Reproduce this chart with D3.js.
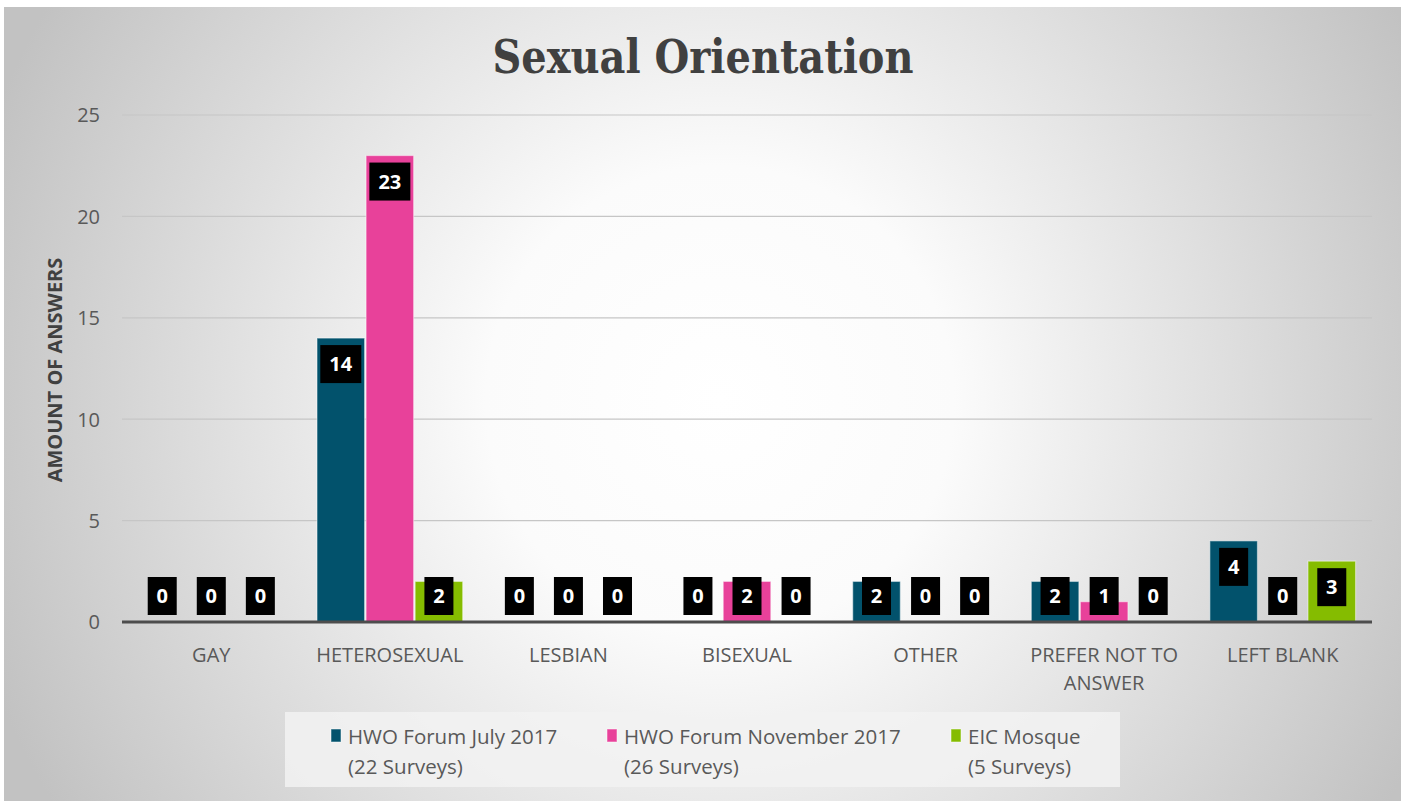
<!DOCTYPE html>
<html>
<head>
<meta charset="utf-8">
<script src="https://cdn.jsdelivr.net/npm/d3@7"></script>
<style>
  html, body { margin: 0; padding: 0; background: #ffffff; }
  svg { display: block; }
</style>
</head>
<body>
<svg id="chart" width="1403" height="801"></svg>
<script>
// ---- data ----
const categories = ["GAY", "HETEROSEXUAL", "LESBIAN", "BISEXUAL", "OTHER", "PREFER NOT TO ANSWER", "LEFT BLANK"];
const seriesNames = ["HWO Forum July 2017", "HWO Forum November 2017", "EIC Mosque"];
const seriesSub = ["(22 Surveys)", "(26 Surveys)", "(5 Surveys)"];
const julyValues = [0, 14, 0, 0, 2, 2, 4];
const novValues = [0, 23, 0, 2, 0, 1, 0];
const mosqueValues = [0, 2, 0, 0, 0, 0, 3];
const yTicks = [0, 5, 10, 15, 20, 25];
const seriesColors = ["#02526c", "#e8419a", "#85bc00"];
const title = "Sexual Orientation";
const yTitle = "AMOUNT OF ANSWERS";

const seriesValues = [julyValues, novValues, mosqueValues];
const W = 1403, H = 801;
const svg = d3.select("#chart");

// ---- background ----
const defs = svg.append("defs");
const rg = defs.append("radialGradient").attr("id", "bg")
  .attr("gradientUnits", "userSpaceOnUse")
  .attr("cx", 720).attr("cy", 400).attr("r", 780);
rg.append("stop").attr("offset", "0%").attr("stop-color", "#ffffff");
rg.append("stop").attr("offset", "30%").attr("stop-color", "#fbfbfb");
rg.append("stop").attr("offset", "100%").attr("stop-color", "#c2c2c2");
svg.append("rect").attr("x", 0).attr("y", 0).attr("width", W).attr("height", H).attr("fill", "#ffffff");
svg.append("rect").attr("x", 4).attr("y", 7).attr("width", W - 6).attr("height", H - 7).attr("fill", "url(#bg)");

// ---- scales ----
const plotLeft = 122, plotRight = 1372, plotTop = 115, plotBottom = 622;
const x0 = d3.scaleBand().domain(categories).range([plotLeft, plotRight]).padding(0);
const bw = x0.bandwidth();
const x1 = d3.scaleBand().domain(d3.range(seriesNames.length))
  .range([bw * 0.092, bw * 0.908]).paddingInner(0.03);
const y = d3.scaleLinear().domain([0, 25]).range([plotBottom, plotTop]);

// ---- gridlines ----
svg.append("g").selectAll("line").data(yTicks.filter(t => t > 0)).join("line")
  .attr("x1", plotLeft).attr("x2", plotRight)
  .attr("y1", d => y(d)).attr("y2", d => y(d))
  .attr("stroke", "#c6c6c6").attr("stroke-width", 1.2);

// ---- y axis tick labels ----
const yAxis = d3.axisLeft(y).tickValues(yTicks).tickSize(0).tickPadding(0);
const yg = svg.append("g").attr("transform", `translate(${plotLeft - 22},0)`).call(yAxis);
yg.select(".domain").remove();
yg.selectAll("text").attr("font-family", "'Open Sans', sans-serif").attr("font-size", 20)
  .attr("fill", "#595959").attr("dy", "0.34em");

// ---- y title ----
svg.append("text")
  .attr("transform", `translate(62,370) rotate(-90)`)
  .attr("text-anchor", "middle")
  .attr("font-family", "'Open Sans', sans-serif").attr("font-weight", "bold")
  .attr("font-size", 20).attr("fill", "#404040")
  .text(yTitle);

// ---- bars ----
const flat = [];
categories.forEach((c, ci) => {
  seriesValues.forEach((vals, si) => flat.push({ c, si, v: vals[ci] }));
});
svg.append("g").selectAll("rect").data(flat.filter(d => d.v > 0)).join("rect")
  .attr("x", d => x0(d.c) + x1(d.si))
  .attr("y", d => y(d.v))
  .attr("width", x1.bandwidth())
  .attr("height", d => y(0) - y(d.v))
  .attr("fill", d => seriesColors[d.si])
  .attr("stroke", "rgba(255,255,255,0.45)").attr("stroke-width", 1.2);

// ---- axis line ----
svg.append("line").attr("x1", plotLeft).attr("x2", plotRight)
  .attr("y1", y(0)).attr("y2", y(0))
  .attr("stroke", "#4d4d4d").attr("stroke-width", 3);

// ---- value labels ----
const lg = svg.append("g");
flat.forEach(d => {
  const cx = x0(d.c) + x1(d.si) + x1.bandwidth() / 2;
  const boxH = 38;
  let top = y(d.v) + 7;
  if (top + boxH > y(0) - 7) top = y(0) - 7 - boxH;
  const t = lg.append("text")
    .attr("x", cx).attr("y", top + boxH / 2)
    .attr("dy", "0.36em")
    .attr("text-anchor", "middle")
    .attr("font-family", "'Open Sans', sans-serif").attr("font-weight", "bold")
    .attr("font-size", 20).attr("fill", "#ffffff")
    .text(String(d.v));
  const boxW = String(d.v).length > 1 ? 41 : 29;
  lg.insert("rect", () => t.node())
    .attr("x", cx - boxW / 2).attr("y", top)
    .attr("width", boxW).attr("height", boxH)
    .attr("fill", "#000000");
});

// ---- x labels ----
const xl = svg.append("g");
const wrapLines = { "PREFER NOT TO ANSWER": ["PREFER NOT TO", "ANSWER"] };
categories.forEach(c => {
  const lines = wrapLines[c] || [c];
  const t = xl.append("text")
    .attr("x", x0(c) + bw / 2).attr("y", 662)
    .attr("text-anchor", "middle")
    .attr("font-family", "'Open Sans', sans-serif").attr("font-size", 20)
    .attr("fill", "#595959");
  lines.forEach((ln, i) => {
    t.append("tspan").attr("x", x0(c) + bw / 2).attr("dy", i === 0 ? 0 : 28).text(ln);
  });
});

// ---- title ----
svg.append("text")
  .attr("x", 703).attr("y", 73)
  .attr("text-anchor", "middle")
  .attr("font-family", "'DejaVu Serif', serif").attr("font-weight", "bold")
  .attr("font-size", 46).attr("fill", "#404040")
  .attr("textLength", 421).attr("lengthAdjust", "spacingAndGlyphs")
  .text(title);

// ---- legend ----
svg.append("rect").attr("x", 285).attr("y", 712).attr("width", 835).attr("height", 75)
  .attr("fill", "rgba(242,242,242,0.85)");
const legendX = [331, 607, 951];
const leg = svg.append("g");
seriesNames.forEach((name, i) => {
  leg.append("rect").attr("x", legendX[i]).attr("y", 729).attr("width", 10).attr("height", 13)
    .attr("fill", seriesColors[i]).attr("stroke", "rgba(255,255,255,0.5)").attr("stroke-width", 1);
  const t = leg.append("text")
    .attr("font-family", "'Open Sans', sans-serif").attr("font-size", 20.5)
    .attr("fill", "#595959");
  t.append("tspan").attr("x", legendX[i] + 17).attr("y", 744).text(name);
  t.append("tspan").attr("x", legendX[i] + 17).attr("y", 774).text(seriesSub[i]);
});
</script>
</body>
</html>
